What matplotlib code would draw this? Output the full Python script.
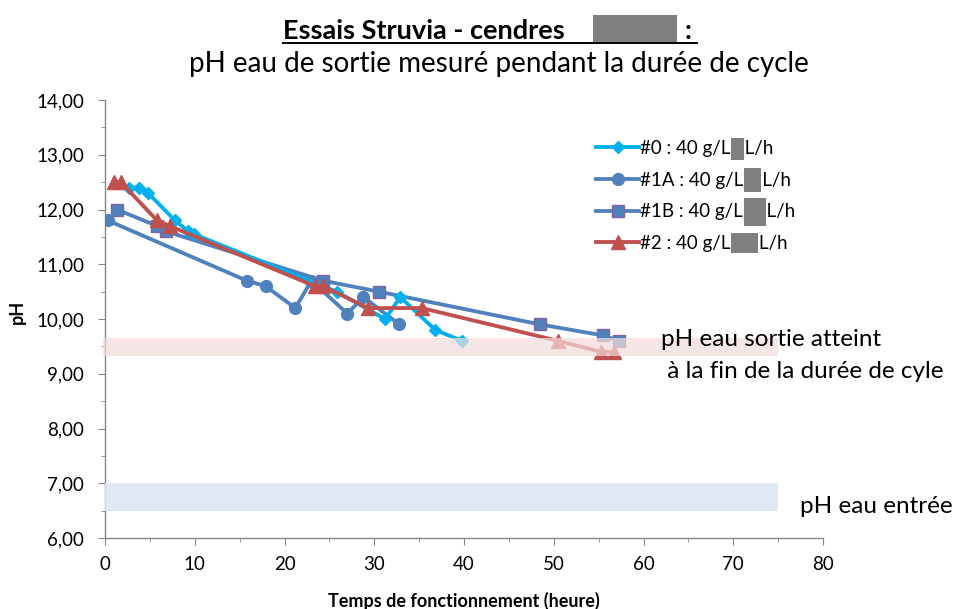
import matplotlib
matplotlib.use("Agg")
import matplotlib.pyplot as plt
from matplotlib.patches import Rectangle
from matplotlib.lines import Line2D
from matplotlib.ticker import MultipleLocator, FuncFormatter

plt.rcParams['font.family'] = ['Lato', 'DejaVu Sans']

# ---- data ----
t0 = [2.7, 3.8, 4.8, 7.8, 9.3, 9.9, 25.8, 31.2, 32.9, 36.8, 39.8]
ph0 = [12.4, 12.4, 12.3, 11.8, 11.6, 11.55, 10.5, 10.0, 10.4, 9.8, 9.6]

t1A = [0.3, 15.8, 17.9, 21.2, 23.0, 27.0, 28.8, 32.8]
ph1A = [11.8, 10.7, 10.6, 10.2, 10.7, 10.1, 10.4, 9.9]

t1B = [1.3, 5.8, 6.8, 24.3, 30.5, 48.5, 55.5, 57.3]
ph1B = [12.0, 11.7, 11.6, 10.7, 10.5, 9.9, 9.7, 9.6]

t2 = [1.0, 1.75, 5.8, 7.2, 23.4, 24.3, 29.3, 35.3, 50.5, 55.3, 56.75]
ph2 = [12.5, 12.5, 11.8, 11.7, 10.6, 10.6, 10.2, 10.2, 9.6, 9.4, 9.4]

label_prefix = ["#0 : 40 g/L", "#1A : 40 g/L", "#1B : 40 g/L", "#2 : 40 g/L"]
label_gap = ["   ", "    ", "     ", "      "]
label_suffix = "L/h"
labels = [p + g + label_suffix for p, g in zip(label_prefix, label_gap)]

band_out = (9.33, 9.65)   # pH eau sortie
band_in = (6.5, 7.0)      # pH eau entrée
band_xmax = 75

# ---- figure ----
W, H = 958, 609
fig = plt.figure(figsize=(W / 100, H / 100), dpi=100)
ax = fig.add_axes([105 / W, 1 - 538 / H, (823 - 105) / W, (538 - 100) / H])

lw = 2.75
ax.plot(t0, ph0, color='#00B0F0', lw=lw, marker='D', ms=6.5, label=labels[0], zorder=5)
ax.plot(t1A, ph1A, color='#4F81BD', lw=lw, marker='o', ms=8.5, label=labels[1], zorder=4)
ax.plot(t1B, ph1B, color='#4F81BD', lw=lw, marker='s', ms=8.5, mec='#8064A2', mew=1,
        label=labels[2], zorder=3)
ax.plot(t2, ph2, color='#C0504D', lw=lw, marker='^', ms=9.5, label=labels[3], zorder=6)

ax.add_patch(Rectangle((-0.2, band_out[0]), band_xmax + 0.2, band_out[1] - band_out[0],
                       facecolor='#F2DCDB', alpha=0.72, edgecolor='none', zorder=8,
                       clip_on=False))
ax.add_patch(Rectangle((0, band_in[0]), band_xmax, band_in[1] - band_in[0],
                       facecolor='#DCE6F2', alpha=0.9, edgecolor='none', zorder=8,
                       clip_on=False))

ax.set_xlim(0, 80)
ax.set_ylim(6, 14)
ax.xaxis.set_major_locator(MultipleLocator(10))
ax.xaxis.set_minor_locator(MultipleLocator(5))
ax.yaxis.set_major_locator(MultipleLocator(1))
ax.yaxis.set_minor_locator(MultipleLocator(0.5))
ax.yaxis.set_major_formatter(FuncFormatter(lambda v, p: f"{v:.2f}".replace('.', ',')))
for s in ['top', 'right']:
    ax.spines[s].set_visible(False)
for s in ['left', 'bottom']:
    ax.spines[s].set_color('#868686')
    ax.spines[s].set_linewidth(1)
ax.tick_params(which='major', direction='out', length=5, color='#868686', labelsize=13.5)
ax.tick_params(axis='y', which='major', pad=10)
ax.tick_params(axis='x', which='major', pad=8)
ax.tick_params(which='minor', direction='out', length=3, color='#868686')

ax.set_xlabel("Temps de fonctionnement (heure)", fontsize=13, fontweight='bold')
ax.set_ylabel("pH", fontsize=13, fontweight='bold')
ax.xaxis.set_label_coords(0.5, (538 - 592) / 438)
ax.yaxis.set_label_coords((26 - 105) / 718, (538 - 311.5) / 438)

leg = ax.legend(loc='upper left', bbox_to_anchor=(596 / W, 1 - 140 / H),
                bbox_transform=fig.transFigure, frameon=False, fontsize=13.5,
                handlelength=2.3, handletextpad=0.05, labelspacing=0.78, borderpad=0,
                borderaxespad=0)

# annotations
fig.text(661 / W, 1 - 346.5 / H, "pH eau sortie atteint", fontsize=17.5, va='baseline', ha='left')
fig.text(661 / W, 1 - 378 / H, " à la fin de la durée de cyle", fontsize=17.5, va='baseline', ha='left')
fig.text(800 / W, 1 - 513 / H, "pH eau entrée", fontsize=17.5, va='baseline', ha='left')

# titles
fig.text(283 / W, 1 - 39 / H, "Essais Struvia - cendres", fontsize=19.5,
         fontweight='bold', ha='left', va='baseline')
fig.text(692 / W, 1 - 39 / H, ":", fontsize=19.5,
         fontweight='bold', ha='right', va='baseline')
fig.text(498.5 / W, 1 - 72 / H, "pH eau de sortie mesuré pendant la durée de cycle",
         fontsize=20, ha='center', va='baseline')
fig.add_artist(Line2D([283 / W, 697 / W], [1 - 43 / H, 1 - 43 / H],
                      transform=fig.transFigure, color='black', lw=1.4))

# redaction boxes (as in the reference)
def add_box(x0, y0, x1, y1):
    fig.add_artist(Rectangle((x0 / W, 1 - y1 / H), (x1 - x0) / W, (y1 - y0) / H,
                             transform=fig.transFigure, facecolor='#7F7F7F',
                             edgecolor='none', zorder=20))

add_box(593, 15, 677, 42)

fig.canvas.draw()
renderer = fig.canvas.get_renderer()
box_h = [(-11, 11), (-12, 12), (-14, 14), (-10, 10)]
for txt, pre, gap, (dy0, dy1) in zip(leg.get_texts(), label_prefix, label_gap, box_h):
    bb = txt.get_window_extent(renderer)
    tmp = fig.text(0, 0, pre, fontproperties=txt.get_fontproperties())
    w1 = tmp.get_window_extent(renderer).width
    tmp.set_text(pre + gap)
    w2 = tmp.get_window_extent(renderer).width
    tmp.remove()
    cy = H - (bb.y0 + bb.y1) / 2
    add_box(bb.x0 + w1 + 1, cy + dy0, bb.x0 + w2 - 1, cy + dy1)

fig.savefig("out.png", dpi=100)
